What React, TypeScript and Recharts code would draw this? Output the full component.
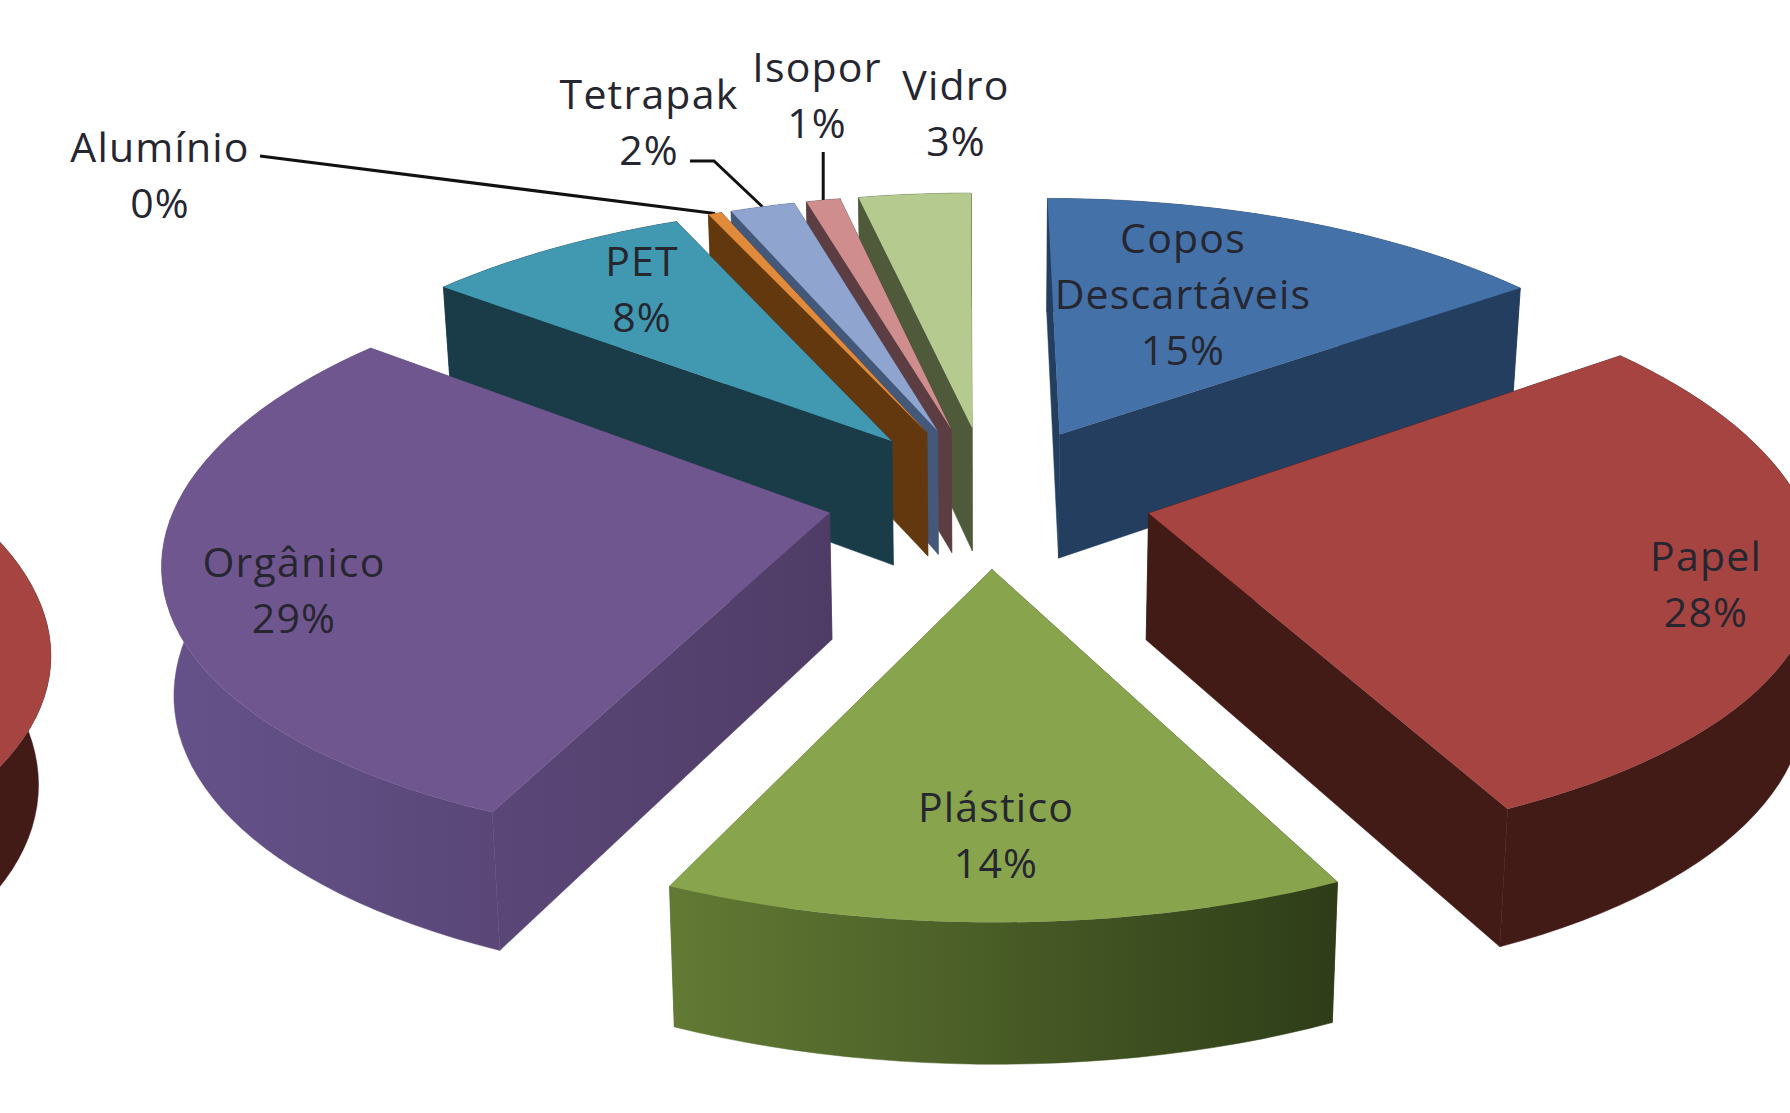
import React from "react";
import { PieChart, Pie } from "recharts";

const CATEGORIES = ["Copos Descartáveis", "Papel", "Plástico", "Orgânico", "PET", "Alumínio", "Tetrapak", "Isopor", "Vidro"];
const VALUES = [15, 28, 14, 29, 7.8, 0.4, 1.9, 1, 3.3];
const PERCENT_LABELS = ["15%", "28%", "14%", "29%", "8%", "0%", "2%", "1%", "3%"];
const TITLE_LINES = [["Copos", "Descartáveis"], ["Papel"], ["Plástico"], ["Orgânico"], ["PET"], ["Alumínio"], ["Tetrapak"], ["Isopor"], ["Vidro"]];

const TOP_COLORS = ["#4471a8", "#a64441", "#88a54d", "#70568f", "#4198b1", "#e08a3c", "#8fa5d0", "#cf8d8d", "#b5ca8f"];
const WALL_LEFT = ["#233e5e", "#421a16", "#627a34", "#65528a", "#1a3c48", "#63380f", "#44587a", "#5c3e42", "#4f5a3a"];
const WALL_RIGHT = ["#233e5e", "#421a16", "#2e3d18", "#4f3c66", "#1a3c48", "#63380f", "#44587a", "#5c3e42", "#4f5a3a"];

// painter's order, back of the pie first
const DRAW_ORDER = ["Vidro", "Isopor", "Tetrapak", "Alumínio", "PET", "Copos Descartáveis", "Orgânico", "Papel", "Plástico"];

// centre x, first line centre y of each label, in page pixels
const LABEL_X = [1183, 1706, 996, 294, 642, 160, 649, 817, 956];
const LABEL_Y = [237, 555, 806, 561, 260, 146, 93, 66, 84];

const WIDTH = 1790;
const HEIGHT = 1113;
const CX = 989;
const CY = 496;
const RADIUS = 300;
const SCALE_X = 2.17;
const SCALE_Y = 0.945;
const TILT_X = 0.15;
const TILT_Y = 0.135;
const SKEW = 3;
const EXPLODE = 0.25;
const DEPTH = 126;
const DEPTH_TILT = 0.09;
const WRAP_X = 1767;
const WRAP_Y = 86;
const FONT = "'Open Sans', sans-serif";
const LINE_HEIGHT = 56;

const rad = (d: number) => (d * Math.PI) / 180;

function project(cx: number, cy: number, r: number, u: number, v: number, bottom: boolean) {
  const x = (r * SCALE_X * u) / (1 - TILT_X * v) + SKEW * v;
  const y = (r * SCALE_Y * v) / (1 - TILT_Y * v);
  if (!bottom) return [cx + x, cy + y];
  return [cx + x * 0.985, cy + y + DEPTH / (1 - DEPTH_TILT * v)];
}

const toPath = (pts: number[][]) =>
  pts.map((p, i) => `${i ? "L" : "M"}${p[0].toFixed(1)},${p[1].toFixed(1)}`).join("") + "Z";

function Slice3D(props: any) {
  const { cx, cy, outerRadius, startAngle, endAngle, index } = props;
  // recharts angles are counter-clockwise from 3 o'clock, clock angles are easier to read
  const a0 = 90 - startAngle;
  const a1 = 90 - endAngle;
  const mid = (a0 + a1) / 2;
  const ex = EXPLODE * Math.sin(rad(mid));
  const ey = -EXPLODE * Math.cos(rad(mid));
  const steps = Math.max(4, Math.ceil((a1 - a0) / 2));

  const top: number[][] = [project(cx, cy, outerRadius, ex, ey, false)];
  const bot: number[][] = [project(cx, cy, outerRadius, ex, ey, true)];
  for (let i = 0; i <= steps; i++) {
    const a = rad(a0 + ((a1 - a0) * i) / steps);
    const u = Math.sin(a) + ex;
    const v = -Math.cos(a) + ey;
    top.push(project(cx, cy, outerRadius, u, v, false));
    bot.push(project(cx, cy, outerRadius, u, v, true));
  }

  const arcTop = top.slice(1);
  const arcBot = bot.slice(1);
  const xs = top.concat(bot).map((p) => p[0]);
  const minX = Math.min(...xs);
  const maxX = Math.max(...xs);
  const gradId = `wall-${index}`;
  const wallFill = `url(#${gradId})`;

  const walls = [
    [top[0], arcTop[0], arcBot[0], bot[0]],
    [top[0], arcTop[steps], arcBot[steps], bot[0]],
    arcTop.concat(arcBot.slice().reverse()),
  ].sort((p, q) => {
    const avg = (f: number[][]) => f.reduce((s, c) => s + c[1], 0) / f.length;
    return avg(p) - avg(q);
  });

  const body = (
    <>
      {walls.map((f, i) => (
        <path key={i} d={toPath(f)} fill={wallFill} stroke={wallFill} strokeWidth={0.5} />
      ))}
      <path d={toPath(top)} fill={TOP_COLORS[index]} />
    </>
  );

  return (
    <g>
      <defs>
        <linearGradient id={gradId} gradientUnits="userSpaceOnUse" x1={minX} x2={maxX} y1={0} y2={0}>
          <stop offset="0%" stopColor={WALL_LEFT[index]} />
          <stop offset="100%" stopColor={WALL_RIGHT[index]} />
        </linearGradient>
      </defs>
      {body}
      {/* the source picture wraps round, so what leaves on the right comes back on the left */}
      {maxX > WIDTH && <g transform={`translate(${-WRAP_X},${WRAP_Y})`}>{body}</g>}
    </g>
  );
}

function SliceLabel(props: any) {
  const { index } = props;
  const lines = [...TITLE_LINES[index], PERCENT_LABELS[index]];
  return (
    <text textAnchor="middle" fontFamily={FONT} fontSize={41} letterSpacing={1.2} fill="#262630">
      {lines.map((t, i) => (
        <tspan key={i} x={LABEL_X[index]} y={LABEL_Y[index] + i * LINE_HEIGHT} dominantBaseline="central">
          {t}
        </tspan>
      ))}
    </text>
  );
}

const sliceData = CATEGORIES.map((name, i) => ({ name, value: VALUES[i] }));

// leader lines run from a label to the outer edge of its slice
function leader(index: number, startX: number | null, startY: number, elbowX?: number) {
  const total = VALUES.reduce((s, v) => s + v, 0);
  const before = VALUES.slice(0, index).reduce((s, v) => s + v, 0);
  const mid = ((before + VALUES[index] / 2) / total) * 360;
  const ex = EXPLODE * Math.sin(rad(mid));
  const ey = -EXPLODE * Math.cos(rad(mid));
  const end = project(CX, CY, RADIUS, Math.sin(rad(mid)) + ex, -Math.cos(rad(mid)) + ey, false);
  const pts = [[startX ?? end[0], startY]];
  if (elbowX !== undefined) pts.push([elbowX, startY]);
  pts.push(end);
  return pts.map((p) => p.join(",")).join(" ");
}

function LeaderLines() {
  return (
    <g fill="none" stroke="#111" strokeWidth={3}>
      <polyline points={leader(5, 260, 156)} />
      <polyline points={leader(6, 690, 161, 714)} />
      <polyline points={leader(7, null, 152)} />
    </g>
  );
}

export default function App() {
  return (
    <div style={{ position: "absolute", left: 0, top: 0, width: WIDTH, height: HEIGHT, overflow: "hidden", background: "#fff" }}>
      <PieChart width={WIDTH} height={HEIGHT} margin={{ top: 0, right: 0, bottom: 0, left: 0 }}>
        {DRAW_ORDER.map((layer) => (
          <Pie
            key={layer}
            data={sliceData}
            dataKey="value"
            nameKey="name"
            cx={CX}
            cy={CY}
            innerRadius={0}
            outerRadius={RADIUS}
            startAngle={90}
            endAngle={-270}
            stroke="none"
            isAnimationActive={false}
            shape={(p: any) => (p.name === layer ? <Slice3D {...p} /> : <g />)}
          />
        ))}
        <Pie
          data={sliceData}
          dataKey="value"
          cx={CX}
          cy={CY}
          outerRadius={RADIUS}
          startAngle={90}
          endAngle={-270}
          isAnimationActive={false}
          shape={() => <g />}
          labelLine={false}
          label={SliceLabel}
        />
        <LeaderLines />
      </PieChart>
    </div>
  );
}
